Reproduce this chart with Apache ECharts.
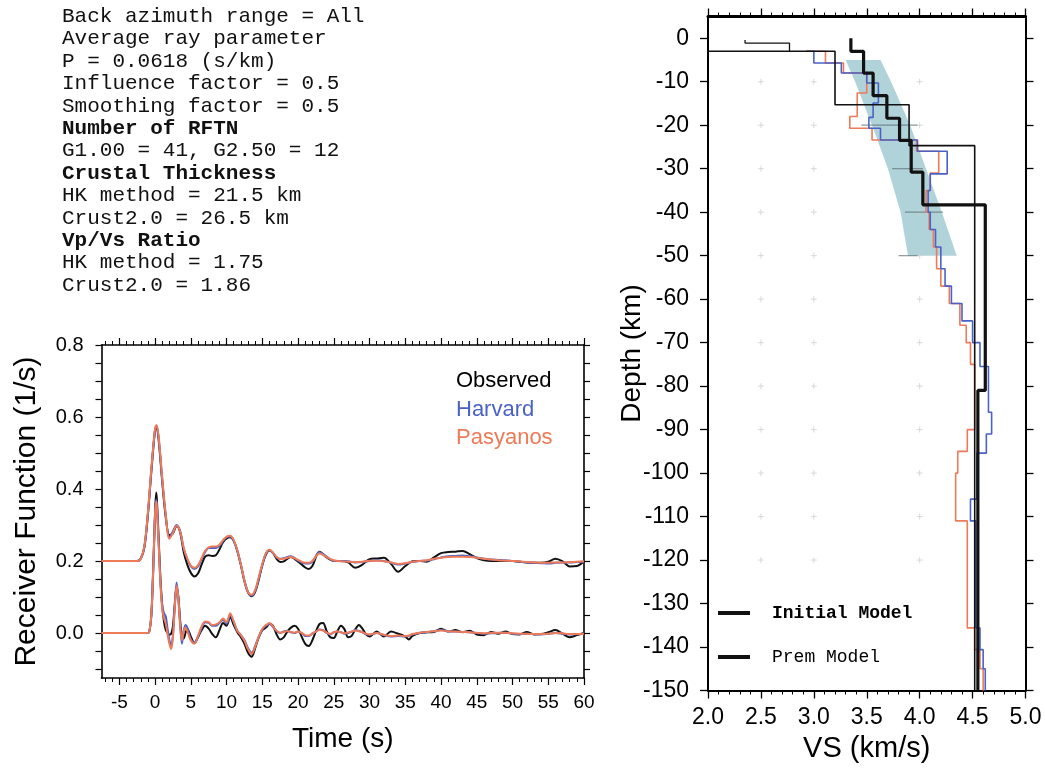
<!DOCTYPE html>
<html><head><meta charset="utf-8">
<script src="https://cdn.jsdelivr.net/npm/echarts@6/dist/echarts.min.js"></script>
<style>html,body{margin:0;padding:0;background:#fff}#c{width:1045px;height:769px}</style>
</head><body><div id="c"></div>
<script>
// ---------- text block ----------
const infoLines = ['Back azimuth range = All','Average ray parameter','P = 0.0618 (s/km)','Influence factor = 0.5','Smoothing factor = 0.5','Number of RFTN','G1.00 = 41, G2.50 = 12','Crustal Thickness','HK method = 21.5 km','Crust2.0 = 26.5 km','Vp/Vs Ratio','HK method = 1.75','Crust2.0 = 1.86'];
const infoBold = [5, 7, 10];

// ---------- receiver functions (left) ----------
const timeTicksMajor = [-5,0,5,10,15,20,25,30,35,40,45,50,55,60];
const timeTicksMinor = [-7,-6,-4,-3,-2,-1,1,2,3,4,6,7,8,9,11,12,13,14,16,17,18,19,21,22,23,24,26,27,28,29,31,32,33,34,36,37,38,39,41,42,43,44,46,47,48,49,51,52,53,54,56,57,58,59];
const rfTickLabels = [0,0.2,0.4,0.6,0.8];
const rfTicks = [-0.1,-0.05,0,0.05,0.1,0.15,0.2,0.25,0.3,0.35,0.4,0.45,0.5,0.55,0.6,0.65,0.7,0.75,0.8];

const tTop = [-7.5,-2.5,-2,-1.5,-1,-0.5,0,0.2,0.5,1,1.5,2,2.5,3,3.5,4,4.5,5,5.5,6,6.5,7,7.5,8,8.5,9,9.5,10,10.5,11,11.5,12,12.5,13,13.5,14,14.5,15,15.5,16,16.5,17,17.5,18,19,20,21,21.5,22,23,24,25,26,27,28,29,30,31,32,33,34,35,36,37,38,39,40,41,42,43,44,45,46,47,48,49,50,51,52,53,54,55,56,57,58,59,60];
const obsTop = [.2,.2,.207,.238,.33,.455,.565,.571,.535,.42,.32,.272,.277,.297,.28,.225,.19,.167,.157,.165,.19,.212,.216,.214,.216,.232,.252,.263,.266,.256,.228,.188,.143,.112,.102,.114,.148,.188,.218,.229,.222,.206,.197,.199,.211,.198,.182,.178,.186,.226,.21,.2,.2,.196,.181,.19,.205,.207,.209,.192,.17,.186,.199,.2,.198,.21,.222,.225,.226,.228,.219,.208,.202,.2,.2,.2,.2,.198,.196,.195,.195,.198,.206,.199,.185,.186,.2];
const harTop = [.2,.2,.207,.24,.335,.46,.566,.574,.54,.425,.325,.265,.283,.3,.283,.235,.205,.185,.178,.185,.205,.225,.236,.236,.236,.242,.256,.266,.268,.256,.228,.19,.146,.114,.104,.117,.152,.19,.22,.23,.222,.21,.206,.208,.213,.201,.193,.193,.198,.224,.212,.2,.2,.199,.196,.197,.2,.202,.2,.195,.19,.193,.197,.2,.201,.205,.21,.213,.214,.215,.213,.21,.206,.204,.203,.202,.2,.198,.196,.195,.194,.193,.195,.196,.196,.197,.198];
const pasTop = [.2,.2,.207,.242,.337,.463,.57,.578,.545,.43,.327,.262,.278,.298,.282,.236,.207,.187,.181,.188,.208,.228,.238,.24,.24,.245,.258,.268,.27,.258,.23,.19,.145,.113,.106,.12,.155,.192,.222,.231,.223,.211,.205,.206,.211,.203,.195,.195,.2,.221,.211,.202,.199,.198,.197,.198,.201,.201,.199,.196,.192,.194,.198,.2,.202,.206,.209,.211,.212,.212,.211,.209,.206,.204,.202,.201,.2,.199,.197,.196,.195,.195,.196,.196,.197,.198,.199];

const tBot = [-7.5,-1,-0.75,-0.5,-0.25,0,0.15,0.25,0.5,0.75,1,1.25,1.5,1.75,2,2.25,2.5,2.75,3,3.25,3.5,3.75,4,4.25,4.5,5,5.5,6,6.5,7,7.5,8,8.5,9,9.5,10,10.5,11,11.5,12,12.5,13,13.5,14,14.5,15,15.5,16,16.5,17,17.5,18,18.5,19,19.5,20,20.5,21,21.5,22,22.5,23,23.5,24,24.5,25,25.5,26,26.5,27,27.5,28,28.5,29,29.5,30,31,32,33,34,35,35.5,36,37,38,39,40,41,42,43,44,45,46,47,48,49,50,51,52,53,54,55,56,57,58,59,60];
const obsBot = [0,0,.01,.06,.19,.34,.39,.37,.26,.15,.075,.03,.008,0,-.005,-.002,.02,.08,.128,.1,.035,-.008,-.015,0,.012,-.01,-.028,-.012,.008,.02,.012,-.003,-.012,.008,.028,.02,.045,.022,.002,-.012,-.03,-.055,-.066,-.042,-.012,.008,.015,.025,.02,-.004,-.018,-.012,.004,.015,.02,.012,-.01,-.03,-.036,-.02,.005,.025,.028,.005,-.012,-.014,.005,.02,.01,-.012,-.008,.01,.022,.012,-.004,-.01,.004,-.01,.004,-.002,-.01,-.018,-.008,0,.002,.003,.012,.004,.008,.002,.006,-.004,-.006,.003,-.002,.004,-.003,-.004,.003,-.004,-.003,.002,.008,-.002,-.012,-.006,0];
const harBot = [0,0,.01,.055,.18,.33,.37,.355,.25,.14,.075,.055,.045,.01,-.02,-.035,-.005,.075,.14,.1,.025,-.03,.005,.022,.015,-.018,-.028,-.01,.014,.03,.028,.02,.02,.028,.036,.026,.05,.03,.006,-.006,-.02,-.042,-.055,-.036,-.01,.01,.02,.026,.016,.005,0,.004,.006,.002,0,.004,0,-.008,-.008,-.002,.004,.01,.008,0,-.004,.002,.004,.002,-.002,0,.004,.008,.006,.002,-.003,-.005,0,-.006,-.01,-.008,-.01,-.008,-.004,0,.002,.005,.008,.005,.004,.003,.002,0,-.002,-.001,0,.001,-.002,-.003,-.002,-.003,-.004,-.002,0,-.002,-.004,-.003,-.002];
const pasBot = [0,0,.01,.06,.185,.335,.365,.35,.245,.135,.065,.04,.025,-.005,-.03,-.045,-.01,.07,.132,.095,.02,-.02,.005,.015,.005,-.02,-.03,-.008,.018,.032,.03,.022,.024,.03,.04,.03,.055,.032,.006,-.006,-.022,-.045,-.058,-.038,-.01,.012,.022,.028,.018,.006,.001,.003,.005,.003,.001,.004,0,-.006,-.007,-.001,.004,.009,.007,.001,-.003,.002,.004,.002,-.001,.001,.004,.007,.005,.002,-.002,-.004,0,-.005,-.008,-.007,-.009,-.007,-.003,.001,.003,.005,.007,.005,.004,.003,.002,.001,-.001,0,.001,.001,-.001,-.002,-.002,-.003,-.003,-.002,0,-.001,-.003,-.003,-.002];

// ---------- velocity models (right) ----------
const depthTicks = [0,-10,-20,-30,-40,-50,-60,-70,-80,-90,-100,-110,-120,-130,-140,-150];
const initDepth = [0,-3,-8,-13.2,-18.4,-23.5,-30.8,-38.3,-81,-150];
const initVs    = [3.35,3.47,3.56,3.69,3.81,3.92,4.03,4.62,4.55];
const premDepth = [0,-3,-15.3,-24.7,-150];
const premVs    = [0,3.2,3.9,4.52];
const topDepth = [-0.4,-1.1,-3];
const topVs    = [2.35,2.77];
const harDepth = [-3,-3,-5.7,-8,-10.3,-14.9,-18.2,-20.7,-23.4,-26,-31.2,-35,-40,-44,-48,-53,-57,-61,-65,-70,-75.5,-86,-91,-95.4,-106,-111,-135.6,-140.6,-145,-150];
const harVs    = [2.93,3.0,3.26,3.5,3.61,3.56,3.52,3.63,3.98,4.26,4.1,4.08,4.1,4.15,4.2,4.24,4.3,4.4,4.5,4.57,4.65,4.68,4.63,4.54,4.48,4.53,4.57,4.6,4.62];
const pasDepth = [-3,-3,-5.7,-8,-12.6,-18,-20.7,-23.4,-26,-31,-35,-40,-44,-48,-53,-57,-61,-66,-70,-75,-90,-95,-100,-111,-135.6,-140.6,-145,-150];
const pasVs    = [2.93,3.11,3.28,3.5,3.41,3.34,3.55,3.97,4.18,4.1,4.06,4.09,4.13,4.16,4.2,4.28,4.38,4.44,4.48,4.52,4.45,4.36,4.34,4.45,4.52,4.57,4.6];
const bandDepth = [-5,-10,-20,-30,-40,-50];
const bandLeft  = [3.30,3.39,3.55,3.70,3.82,3.89];
const bandRight = [3.63,3.73,3.91,4.06,4.21,4.35];
const markDepth = [-20,-30,-40,-50];
const markFrom  = [3.45,3.74,3.86,3.80];
const markTo    = [3.98,4.03,4.22,3.98];
const crossVs   = [2.5,3.0,4.0];
const crossDepth = [-10,-20,-30,-40,-50,-60,-70,-80,-90,-100,-110,-120];

function zip(xs, ys){ return xs.map((x,i)=>[x, ys[i]]); }
function steps(depths, vs){ const p=[]; for(let i=0;i<vs.length;i++){ p.push([vs[i],depths[i]]); p.push([vs[i],depths[i+1]]); } return p; }
const crossData = [];
crossVs.forEach(v=>crossDepth.forEach(d=>crossData.push([v,d])));

const FONT = 'Liberation Sans';
const black = '#111111', blue = '#4a62c6', orange = '#ee7a58';

function ax(grid, min, max, pos, opts){
  return Object.assign({gridIndex:grid, type:'value', min:min, max:max, position:pos,
    axisLine:{show:false, onZero:false}, splitLine:{show:false}, axisLabel:{show:false}, axisTick:{show:false}}, opts);
}
const lineStyleAx = {color:'#000', width:1.6};

const option = {
  animation:false,
  backgroundColor:'#fff',
  textStyle:{fontFamily:FONT},
  grid:[
    {left:101.5, top:345, width:482.5, height:333, containLabel:false, outerBoundsMode:'none'},
    {left:708, top:16.5, width:317.5, height:674, containLabel:false, outerBoundsMode:'none'}
  ],
  xAxis:[
    ax(0,-7.5,60,'bottom',{axisLine:{show:true,onZero:false,lineStyle:lineStyleAx},
      axisTick:{show:true,customValues:timeTicksMajor,length:7,lineStyle:{color:'#000',width:1.2}},
      axisLabel:{show:true,customValues:timeTicksMajor,fontSize:19,color:'#000',margin:15,fontFamily:FONT},
      name:'Time (s)', nameLocation:'middle', nameGap:47, nameTextStyle:{fontSize:28,color:'#000',fontFamily:FONT}}),
    ax(0,-7.5,60,'bottom',{axisTick:{show:true,customValues:timeTicksMinor,length:4,lineStyle:{color:'#000',width:1}}}),
    ax(0,-7.5,60,'top',{axisLine:{show:true,onZero:false,lineStyle:lineStyleAx},
      axisTick:{show:true,customValues:timeTicksMajor,length:7,lineStyle:{color:'#000',width:1.2}}}),
    ax(0,-7.5,60,'top',{axisTick:{show:true,customValues:timeTicksMinor,length:4,lineStyle:{color:'#000',width:1}}}),
    ax(1,2,5,'bottom',{interval:0.5, axisLine:{show:true,onZero:false,lineStyle:{color:'#000',width:2}},
      axisTick:{show:true,length:8,lineStyle:{color:'#000',width:1.3}},
      minorTick:{show:true,splitNumber:5,length:4,lineStyle:{color:'#000',width:1}},
      axisLabel:{show:true,fontSize:23,color:'#000',margin:16,fontFamily:FONT,formatter:v=>v.toFixed(1)},
      name:'VS (km/s)', nameLocation:'middle', nameGap:41, nameTextStyle:{fontSize:29,color:'#000',fontFamily:FONT}}),
    ax(1,2,5,'top',{interval:0.5, axisLine:{show:true,onZero:false,lineStyle:{color:'#000',width:3}},
      axisTick:{show:true,length:8,lineStyle:{color:'#000',width:1.3}},
      minorTick:{show:true,splitNumber:5,length:4,lineStyle:{color:'#000',width:1}}})
  ],
  yAxis:[
    ax(0,-0.125,0.8,'left',{axisLine:{show:true,onZero:false,lineStyle:lineStyleAx},
      axisTick:{show:true,customValues:rfTicks,length:6,lineStyle:{color:'#000',width:1.2}},
      axisLabel:{show:true,customValues:rfTickLabels,fontSize:20,color:'#000',margin:18,fontFamily:FONT,formatter:v=>v.toFixed(1)},
      name:'Receiver Function (1/s)', nameLocation:'middle', nameGap:60, nameRotate:90, nameTextStyle:{fontSize:30,color:'#000',fontFamily:FONT}}),
    ax(0,-0.125,0.8,'right',{axisLine:{show:true,onZero:false,lineStyle:lineStyleAx},
      axisTick:{show:true,customValues:rfTicks,length:6,lineStyle:{color:'#000',width:1.2}}}),
    ax(1,-150,5,'left',{axisLine:{show:true,onZero:false,lineStyle:{color:'#000',width:2}},
      axisTick:{show:true,customValues:depthTicks,length:8,lineStyle:{color:'#000',width:1.3}},
      axisLabel:{show:true,customValues:depthTicks,fontSize:23,color:'#000',margin:19,fontFamily:FONT},
      name:'Depth (km)', nameLocation:'middle', nameGap:62, nameMoveOverlap:false, nameRotate:90, nameTextStyle:{fontSize:28,color:'#000',fontFamily:FONT}}),
    ax(1,-150,5,'right',{axisLine:{show:true,onZero:false,lineStyle:{color:'#000',width:2}},
      axisTick:{show:true,customValues:depthTicks,length:8,lineStyle:{color:'#000',width:1.3}}})
  ],
  legend:[
    {show:true, orient:'vertical', left:451, top:370, padding:0, itemWidth:0, itemHeight:22, itemGap:6.5, icon:'rect', selectedMode:false,
     textStyle:{fontSize:22, fontFamily:FONT, lineHeight:22},
     data:[{name:'Observed',textStyle:{color:'#000'}},{name:'Harvard',textStyle:{color:blue}},{name:'Pasyanos',textStyle:{color:orange}}]},
    {show:true, orient:'vertical', left:718, top:604, padding:0, itemWidth:32, itemHeight:4, itemGap:26, icon:'rect', selectedMode:false,
     textStyle:{fontSize:18, fontFamily:'Liberation Mono', color:'#000', padding:[0,0,0,17]},
     data:[{name:'Initial Model',textStyle:{fontWeight:'bold'}},{name:'Prem Model'}]}
  ],
  graphic: infoLines.map((s,i)=>({type:'text', x:62, y:16.5+22.4*i, silent:true,
    style:{text:s, fill:'#111', font:(infoBold.indexOf(i)>=0?'bold ':'')+'21px "Liberation Mono"', textVerticalAlign:'middle', verticalAlign:'middle'}})),
  series:[
    {type:'line', name:'Observed', xAxisIndex:0, yAxisIndex:0, data:zip(tTop,obsTop), showSymbol:false, symbol:'none', smooth:0.35, lineStyle:{color:black,width:2}, itemStyle:{color:black}},
    {type:'line', name:'Observed', xAxisIndex:0, yAxisIndex:0, data:zip(tBot,obsBot), showSymbol:false, symbol:'none', smooth:0.3, lineStyle:{color:black,width:2}, itemStyle:{color:black}},
    {type:'line', name:'Harvard', xAxisIndex:0, yAxisIndex:0, data:zip(tTop,harTop), showSymbol:false, symbol:'none', smooth:0.35, lineStyle:{color:blue,width:2}, itemStyle:{color:blue}},
    {type:'line', name:'Harvard', xAxisIndex:0, yAxisIndex:0, data:zip(tBot,harBot), showSymbol:false, symbol:'none', smooth:0.3, lineStyle:{color:blue,width:2}, itemStyle:{color:blue}},
    {type:'line', name:'Pasyanos', xAxisIndex:0, yAxisIndex:0, data:zip(tTop,pasTop), showSymbol:false, symbol:'none', smooth:0.35, lineStyle:{color:orange,width:2}, itemStyle:{color:orange}},
    {type:'line', name:'Pasyanos', xAxisIndex:0, yAxisIndex:0, data:zip(tBot,pasBot), showSymbol:false, symbol:'none', smooth:0.3, lineStyle:{color:orange,width:2}, itemStyle:{color:orange}},
    {type:'scatter', name:'grid', xAxisIndex:4, yAxisIndex:2, data:crossData, symbol:'path://M0,5H10M5,0V10', symbolSize:6, silent:true, z:1,
      itemStyle:{color:'none', borderColor:'#cfcfcf', borderWidth:1}},
    {type:'custom', name:'band', xAxisIndex:4, yAxisIndex:2, silent:true, z:1,
      data:bandDepth.map((d,i)=>[bandLeft[i], d]),
      renderItem:function(params, api){
        if(params.dataIndex!==0) return;
        const pts=[];
        for(let i=0;i<bandDepth.length;i++) pts.push(api.coord([bandLeft[i],bandDepth[i]]));
        for(let i=bandDepth.length-1;i>=0;i--) pts.push(api.coord([bandRight[i],bandDepth[i]]));
        return {type:'polygon', shape:{points:pts}, style:{fill:'rgba(150,196,205,0.75)'}};
      }},
    {type:'custom', name:'bandMarks', xAxisIndex:4, yAxisIndex:2, silent:true, z:2,
      data:markDepth.map((d,i)=>[markFrom[i], d]),
      renderItem:function(params, api){
        const i=params.dataIndex;
        const a=api.coord([markFrom[i],markDepth[i]]), b=api.coord([markTo[i],markDepth[i]]);
        return {type:'line', shape:{x1:a[0],y1:a[1],x2:b[0],y2:b[1]}, style:{stroke:'rgba(90,110,115,0.7)', lineWidth:1.2}};
      }},
    {type:'line', name:'Pasyanos', xAxisIndex:4, yAxisIndex:2, data:steps(pasDepth,pasVs), symbol:'none', lineStyle:{color:orange,width:1.6}, itemStyle:{color:orange}, z:3},
    {type:'line', name:'Harvard', xAxisIndex:4, yAxisIndex:2, data:steps(harDepth,harVs), symbol:'none', lineStyle:{color:blue,width:1.6}, itemStyle:{color:blue}, z:3},
    {type:'line', name:'Prem Model', xAxisIndex:4, yAxisIndex:2, data:steps(premDepth,premVs), symbol:'none', lineStyle:{color:black,width:1.6}, itemStyle:{color:black}, z:4},
    {type:'line', name:'Prem Model', xAxisIndex:4, yAxisIndex:2, data:steps(topDepth,topVs), symbol:'none', lineStyle:{color:black,width:1.3}, itemStyle:{color:black}, z:4},
    {type:'line', name:'Initial Model', xAxisIndex:4, yAxisIndex:2, data:steps(initDepth,initVs), symbol:'none', lineStyle:{color:black,width:3.2}, itemStyle:{color:black}, z:5}
  ]
};
const chart = echarts.init(document.getElementById('c'), null, {renderer:'canvas'});
chart.setOption(option);
</script></body></html>
